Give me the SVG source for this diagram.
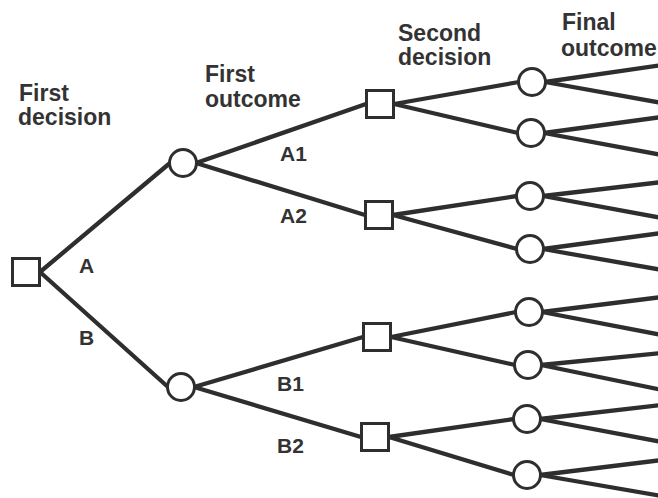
<svg xmlns="http://www.w3.org/2000/svg" width="658" height="498" viewBox="0 0 658 498">
<style>
.e{stroke:#2e2e2e;stroke-width:4.3;stroke-linecap:round;fill:none}
.sq{fill:#fff;stroke:#2e2e2e;stroke-width:3}
.ci{fill:#fff;stroke:#2e2e2e;stroke-width:3}
.h{font-family:"Liberation Sans",Arial,sans-serif;font-weight:bold;font-size:23px;fill:#333}
.l{font-family:"Liberation Sans",Arial,sans-serif;font-weight:bold;font-size:21px;fill:#333}
</style>
<rect width="658" height="498" fill="#fff"/>
<g id="connectors">
<line class="e" x1="40" y1="272" x2="170" y2="163"/>
<line class="e" x1="40" y1="272" x2="168" y2="387"/>
<line class="e" x1="196" y1="163" x2="366" y2="104"/>
<line class="e" x1="196" y1="163" x2="365" y2="215"/>
<line class="e" x1="194" y1="387" x2="363" y2="337"/>
<line class="e" x1="194" y1="387" x2="361" y2="437"/>
<line class="e" x1="394" y1="104" x2="519" y2="82"/>
<line class="e" x1="394" y1="104" x2="518" y2="133"/>
<line class="e" x1="393" y1="215" x2="517" y2="196"/>
<line class="e" x1="393" y1="215" x2="517" y2="249"/>
<line class="e" x1="391" y1="337" x2="516" y2="312"/>
<line class="e" x1="391" y1="337" x2="515" y2="365"/>
<line class="e" x1="389" y1="437" x2="514" y2="419"/>
<line class="e" x1="389" y1="437" x2="514" y2="475"/>
<line class="e" x1="545" y1="82" x2="662" y2="65"/>
<line class="e" x1="545" y1="82" x2="662" y2="103"/>
<line class="e" x1="544" y1="133" x2="662" y2="117"/>
<line class="e" x1="544" y1="133" x2="662" y2="155"/>
<line class="e" x1="543" y1="196" x2="662" y2="182"/>
<line class="e" x1="543" y1="196" x2="662" y2="218"/>
<line class="e" x1="543" y1="249" x2="662" y2="233"/>
<line class="e" x1="543" y1="249" x2="662" y2="270"/>
<line class="e" x1="542" y1="312" x2="662" y2="297"/>
<line class="e" x1="542" y1="312" x2="662" y2="335"/>
<line class="e" x1="541" y1="365" x2="662" y2="353"/>
<line class="e" x1="541" y1="365" x2="662" y2="390"/>
<line class="e" x1="540" y1="419" x2="662" y2="405"/>
<line class="e" x1="540" y1="419" x2="662" y2="442"/>
<line class="e" x1="540" y1="475" x2="662" y2="460"/>
<line class="e" x1="540" y1="475" x2="662" y2="496"/>
</g>
<g id="d0"><rect class="sq" x="12.5" y="258.5" width="27" height="27"/></g>
<g id="oA"><circle class="ci" cx="183" cy="163" r="13.5"/></g>
<g id="oB"><circle class="ci" cx="181" cy="387" r="13.5"/></g>
<g id="s1"><rect class="sq" x="366.5" y="90.5" width="27" height="27"/></g>
<g id="s2"><rect class="sq" x="365.5" y="201.5" width="27" height="27"/></g>
<g id="s3"><rect class="sq" x="363.5" y="323.5" width="27" height="27"/></g>
<g id="s4"><rect class="sq" x="361.5" y="423.5" width="27" height="27"/></g>
<g id="f1"><circle class="ci" cx="532" cy="82" r="13.5"/></g>
<g id="f2"><circle class="ci" cx="531" cy="133" r="13.5"/></g>
<g id="f3"><circle class="ci" cx="530" cy="196" r="13.5"/></g>
<g id="f4"><circle class="ci" cx="530" cy="249" r="13.5"/></g>
<g id="f5"><circle class="ci" cx="529" cy="312" r="13.5"/></g>
<g id="f6"><circle class="ci" cx="528" cy="365" r="13.5"/></g>
<g id="f7"><circle class="ci" cx="527" cy="419" r="13.5"/></g>
<g id="f8"><circle class="ci" cx="527" cy="475" r="13.5"/></g>
<g id="labels">
<text class="h" x="19" y="101">First</text>
<text class="h" x="18" y="125">decision</text>
<text class="h" x="205" y="82">First</text>
<text class="h" x="205" y="107">outcome</text>
<text class="h" x="398" y="41">Second</text>
<text class="h" x="398" y="65">decision</text>
<text class="h" x="562" y="30">Final</text>
<text class="h" x="561" y="56">outcome</text>
<text class="l" x="79" y="273">A</text>
<text class="l" x="79" y="345">B</text>
<text class="l" x="280" y="161">A1</text>
<text class="l" x="280" y="223">A2</text>
<text class="l" x="277" y="391">B1</text>
<text class="l" x="277" y="453">B2</text>
</g>
</svg>
